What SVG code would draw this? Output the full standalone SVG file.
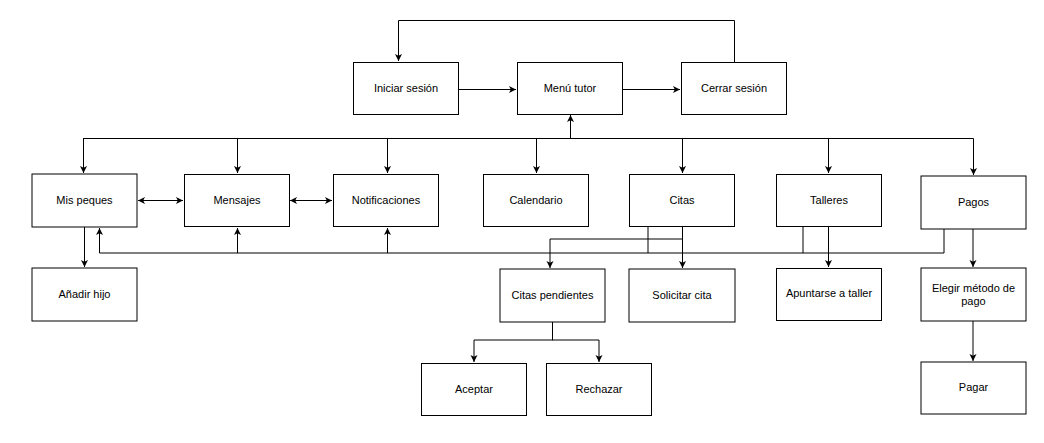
<svg xmlns="http://www.w3.org/2000/svg" width="1044" height="443" viewBox="0 0 1044 443">
<style>
.n rect{fill:#fff;stroke:#000;stroke-width:1}
.n text{font-family:"Liberation Sans",Arial,sans-serif;font-size:11px;fill:#000;text-anchor:middle}
#edges path{fill:none;stroke:#000;stroke-width:1}
</style>
<defs>
<marker id="a" markerUnits="userSpaceOnUse" markerWidth="8" markerHeight="8" refX="7" refY="3.5" orient="auto-start-reverse">
<path d="M0,0 L7,3.5 L0,7 L1.8,3.5 Z" fill="#000"/>
</marker>
</defs>
<rect width="1044" height="443" fill="#fff"/>
<g id="edges">
<path d="M459,89.5 H516" marker-end="url(#a)"/>
<path d="M622,89.5 H680" marker-end="url(#a)"/>
<path d="M734.5,62 V20.5 H398.5 V61" marker-end="url(#a)"/>
<path d="M570.5,138 V115" marker-end="url(#a)"/>
<path d="M83.5,138.5 H973.5 V175" marker-end="url(#a)"/>
<path d="M83.5,138 V173" marker-end="url(#a)"/>
<path d="M237.5,138 V173" marker-end="url(#a)"/>
<path d="M387.5,138 V173" marker-end="url(#a)"/>
<path d="M536.5,138 V173" marker-end="url(#a)"/>
<path d="M682.5,138 V173" marker-end="url(#a)"/>
<path d="M828.5,138 V173" marker-end="url(#a)"/>
<path d="M138,200.5 H183" marker-start="url(#a)" marker-end="url(#a)"/>
<path d="M290,200.5 H332" marker-start="url(#a)" marker-end="url(#a)"/>
<path d="M84.5,227 V267" marker-end="url(#a)"/>
<path d="M944,229 V253 H99.5 V228" marker-end="url(#a)"/>
<path d="M237.5,253 V228" marker-end="url(#a)"/>
<path d="M387.5,253 V228" marker-end="url(#a)"/>
<path d="M648,227 V253"/>
<path d="M803,227 V253"/>
<path d="M682.5,227 V268" marker-end="url(#a)"/>
<path d="M682,239 H550 V268" marker-end="url(#a)"/>
<path d="M828.5,227 V267" marker-end="url(#a)"/>
<path d="M973,229 V267" marker-end="url(#a)"/>
<path d="M973,321 V361" marker-end="url(#a)"/>
<path d="M552.5,322 V340 H474 V362" marker-end="url(#a)"/>
<path d="M552,340 H599 V362" marker-end="url(#a)"/>
</g>
<g id="iniciar" class="n"><rect x="353.5" y="62.5" width="105" height="52"/><text x="406" y="92">Iniciar sesión</text></g>
<g id="menu" class="n"><rect x="517.5" y="62.5" width="105" height="52"/><text x="570" y="92">Menú tutor</text></g>
<g id="cerrar" class="n"><rect x="681.5" y="62.5" width="105" height="52"/><text x="734" y="92">Cerrar sesión</text></g>
<g id="mispeques" class="n"><rect x="32" y="174" width="105" height="53"/><text x="84.5" y="204">Mis peques</text></g>
<g id="mensajes" class="n"><rect x="184.5" y="174.5" width="105" height="52"/><text x="237" y="204">Mensajes</text></g>
<g id="notificaciones" class="n"><rect x="333.5" y="174.5" width="105" height="52"/><text x="386" y="204">Notificaciones</text></g>
<g id="calendario" class="n"><rect x="483.5" y="174.5" width="105" height="52"/><text x="536" y="204">Calendario</text></g>
<g id="citas" class="n"><rect x="629.5" y="174.5" width="105" height="52"/><text x="682" y="204">Citas</text></g>
<g id="talleres" class="n"><rect x="776.5" y="174.5" width="105" height="52"/><text x="829" y="204">Talleres</text></g>
<g id="pagos" class="n"><rect x="921" y="176" width="105" height="53"/><text x="973.5" y="206">Pagos</text></g>
<g id="anadir" class="n"><rect x="32" y="268" width="105" height="53"/><text x="84.5" y="298">Añadir hijo</text></g>
<g id="citaspend" class="n"><rect x="500" y="269" width="105" height="53"/><text x="552.5" y="299">Citas pendientes</text></g>
<g id="solicitar" class="n"><rect x="629" y="269" width="106" height="53"/><text x="682" y="299">Solicitar cita</text></g>
<g id="apuntarse" class="n"><rect x="776.5" y="268.5" width="105" height="52"/><text x="829" y="297">Apuntarse a taller</text></g>
<g id="elegir" class="n"><rect x="921" y="268" width="105" height="53"/><text x="973.5" y="292">Elegir método de</text><text x="973.5" y="305">pago</text></g>
<g id="aceptar" class="n"><rect x="421.5" y="363.5" width="105" height="52"/><text x="474" y="393">Aceptar</text></g>
<g id="rechazar" class="n"><rect x="546.5" y="363.5" width="105" height="52"/><text x="599" y="393">Rechazar</text></g>
<g id="pagar" class="n"><rect x="921" y="362" width="105" height="52"/><text x="973.5" y="391">Pagar</text></g>
</svg>
